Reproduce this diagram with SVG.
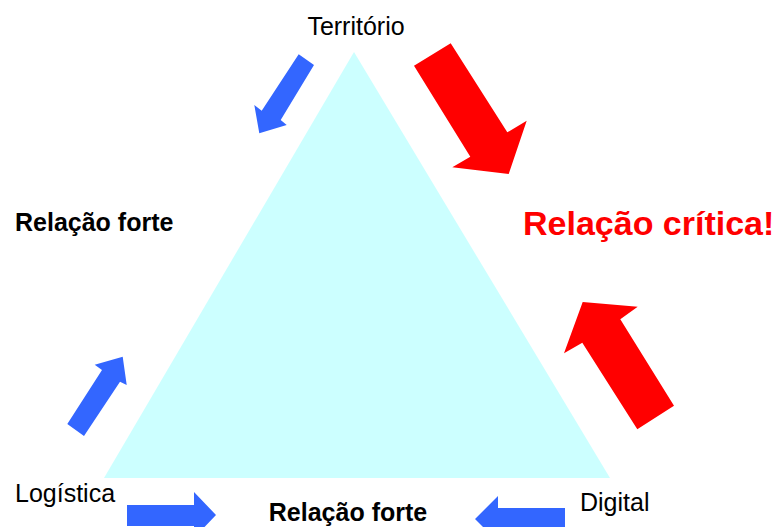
<svg xmlns="http://www.w3.org/2000/svg" width="777" height="527" viewBox="0 0 777 527">
<style>
.lbl{font-family:"Liberation Sans",Arial,sans-serif;font-size:25px;fill:#000}
.b{font-weight:bold}
.red{fill:#FF0000}
.blue{fill:#3366FF}
</style>
<rect width="777" height="527" fill="#FFFFFF"/>
<g id="triangle">
<polygon points="354,52 104,478 610,478" fill="#CCFFFF"/>
</g>
<g id="connectors">
<polygon class="blue" points="298.7,54.3 314,65 280.7,120 286.7,125 259.3,133.3 254.3,105 261.7,110.7"/>
<polygon class="red" points="414,65.7 450.7,43.3 507.3,132.3 526.7,120.7 508.7,174 452.3,167.3 470.3,156.7"/>
<polygon class="red" points="582.7,302 637.7,306.7 620.3,319.3 674,405.7 637.3,429.3 582.3,342.7 564,353.3"/>
<polygon class="blue" points="67.3,424 84,436 120,381.7 126.7,385 122.7,356.7 94.7,364.7 102,370"/>
<polygon class="blue" points="127,505 194,505 194,492 216,515 194,538 194,526 127,526"/>
<polygon class="blue" points="565,508 498,508 498,496 475,519 498,542 498,530 565,530"/>
</g>
<g id="territorio"><text class="lbl" x="356" y="35" text-anchor="middle">Território</text></g>
<g id="logistica"><text class="lbl" x="15" y="502">Logística</text></g>
<g id="digital"><text class="lbl" x="580" y="511">Digital</text></g>
<g id="rel-left"><text class="lbl b" x="15" y="231">Relação forte</text></g>
<g id="rel-bottom"><text class="lbl b" x="348" y="521" text-anchor="middle">Relação forte</text></g>
<g id="rel-critica"><text class="lbl b red" x="523" y="235" style="font-size:34px">Relação crítica!</text></g>
</svg>
